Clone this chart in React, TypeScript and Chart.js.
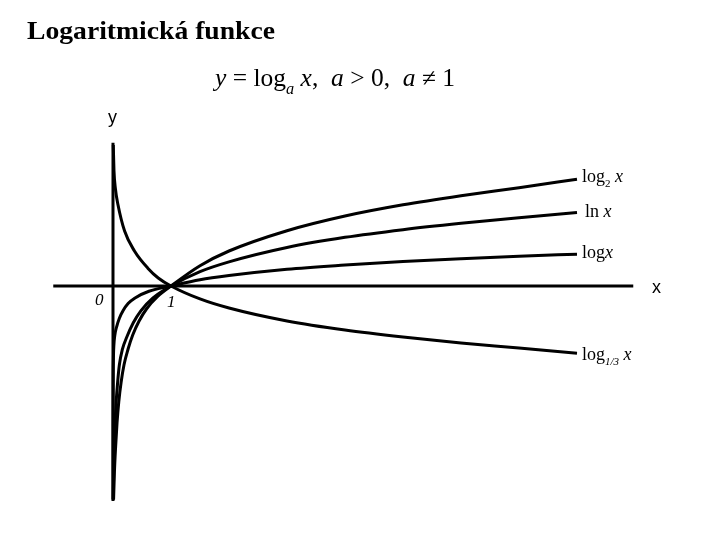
import React, { useEffect, useRef } from "react";
import { Chart, registerables } from "chart.js";
Chart.register(...registerables);

// (x in units, y in units)
const log2Xs = [0.01, 0.025, 0.045, 0.07, 0.1, 0.14, 0.19, 0.26, 0.34, 0.45, 0.58, 0.77, 1, 1.5, 2, 3, 4, 5, 6, 7, 8];
const log2Ys = [-6.1, -5.3, -4.6, -3.9, -3.3, -2.75, -2.25, -1.8, -1.4, -1.0, -0.65, -0.3, 0, 0.58, 1, 1.58, 2, 2.32, 2.58, 2.81, 3.05];

const lnXs = [0.004, 0.012, 0.022, 0.036, 0.055, 0.08, 0.11, 0.16, 0.24, 0.35, 0.48, 0.69, 1, 1.5, 2, 3, 4, 5, 6, 7, 8];
const lnYs = [-6.1, -5.3, -4.6, -3.9, -3.3, -2.75, -2.25, -1.82, -1.45, -1.05, -0.71, -0.34, 0, 0.41, 0.69, 1.1, 1.39, 1.61, 1.79, 1.95, 2.1];

const log10Xs = [0.001, 0.0015, 0.003, 0.007, 0.015, 0.03, 0.06, 0.11, 0.175, 0.26, 0.38, 0.62, 1, 1.5, 2, 3, 4, 5, 6, 7, 8];
const log10Ys = [-6.1, -4.0, -2.8, -2.1, -1.7, -1.42, -1.18, -0.92, -0.7, -0.5, -0.34, -0.15, 0, 0.18, 0.3, 0.48, 0.6, 0.7, 0.78, 0.85, 0.91];

const log13Xs = [0.005, 0.017, 0.04, 0.086, 0.2, 0.37, 0.6, 0.78, 1, 1.5, 2, 3, 4, 5, 6, 7, 8];
const log13Ys = [4.03, 3.29, 2.8, 2.32, 1.57, 1.0, 0.51, 0.23, 0, -0.37, -0.63, -1.0, -1.26, -1.46, -1.63, -1.77, -1.92];

const xAxisXs = [-1.03, 8.97];
const xAxisYs = [0, 0];
const yAxisXs = [0, 0];
const yAxisYs = [4.09, -6.14];

const TITLE = "Logaritmická funkce";

const SERIF = '"Liberation Serif", "Times New Roman", serif';
const SANS = '"Liberation Sans", Arial, sans-serif';

type Part = { t: string; it?: boolean; sub?: boolean };

function drawRich(ctx: CanvasRenderingContext2D, x: number, base: number, parts: Part[], size: number, targetW?: number) {
  const fontFor = (p: Part) => `${p.it ? "italic " : ""}${p.sub ? Math.round(size * 0.62) : size}px ${SERIF}`;
  let total = 0;
  for (const p of parts) {
    ctx.font = fontFor(p);
    total += ctx.measureText(p.t).width;
  }
  const sx = targetW ? targetW / total : 1;
  ctx.save();
  ctx.translate(x, base);
  ctx.scale(sx, 1);
  let cx = 0;
  for (const p of parts) {
    ctx.font = fontFor(p);
    ctx.fillText(p.t, cx, p.sub ? size * 0.3 : 0);
    cx += ctx.measureText(p.t).width;
  }
  ctx.restore();
}

const textPlugin = {
  id: "texts",
  afterDraw(chart: any) {
    const ctx: CanvasRenderingContext2D = chart.ctx;
    ctx.save();
    ctx.fillStyle = "#000";
    ctx.textBaseline = "alphabetic";
    ctx.textAlign = "left";
    // title
    ctx.font = `bold 26px ${SERIF}`;
    const tw = ctx.measureText(TITLE).width;
    ctx.save();
    ctx.translate(27, 39);
    ctx.scale(248 / tw, 1);
    ctx.fillText(TITLE, 0, 0);
    ctx.restore();
    // formula
    drawRich(ctx, 215, 86, [
      { t: "y", it: true },
      { t: " = log" },
      { t: "a", it: true, sub: true },
      { t: " " },
      { t: "x", it: true },
      { t: ",  " },
      { t: "a", it: true },
      { t: " > 0,  " },
      { t: "a", it: true },
      { t: " ≠ 1" },
    ], 25, 240);
    // axis letters
    ctx.font = `18px ${SANS}`;
    ctx.fillText("y", 108, 123);
    ctx.fillText("x", 652, 293);
    // origin and one
    ctx.font = `italic 17px ${SERIF}`;
    ctx.fillText("0", 95, 305);
    ctx.fillText("1", 167, 307);
    // curve labels
    drawRich(ctx, 582, 182, [{ t: "log" }, { t: "2", sub: true }, { t: " " }, { t: "x", it: true }], 18);
    drawRich(ctx, 585, 217, [{ t: "ln" }, { t: " " }, { t: "x", it: true }], 18);
    drawRich(ctx, 582, 258, [{ t: "log" }, { t: "x", it: true }], 18);
    drawRich(ctx, 582, 360, [{ t: "log" }, { t: "1/3", it: true, sub: true }, { t: " " }, { t: "x", it: true }], 18);
    ctx.restore();
  },
};

const pts = (xs: number[], ys: number[]) => xs.map((x, i) => ({ x, y: ys[i] }));

export default function App() {
  const ref = useRef<HTMLCanvasElement>(null);
  useEffect(() => {
    if (!ref.current) return;
    const curve = (data: any) => ({
      data,
      borderColor: "#000",
      borderWidth: 3,
      pointRadius: 0,
      showLine: true,
      cubicInterpolationMode: "monotone" as const,
      fill: false,
      clip: false as any,
    });
    const straight = (data: any) => ({
      data,
      borderColor: "#000",
      borderWidth: 3,
      pointRadius: 0,
      showLine: true,
      tension: 0,
      fill: false,
      clip: false as any,
    });
    const chart = new Chart(ref.current, {
      type: "scatter",
      data: {
        datasets: [
          straight(pts(xAxisXs, xAxisYs)),
          straight(pts(yAxisXs, yAxisYs)),
          curve(pts(log2Xs, log2Ys)),
          curve(pts(lnXs, lnYs)),
          curve(pts(log10Xs, log10Ys)),
          curve(pts(log13Xs, log13Ys)),
        ],
      },
      options: {
        animation: false,
        responsive: false,
        devicePixelRatio: 1,
        layout: { padding: { left: 40, right: 40, top: 130, bottom: 30 } },
        plugins: { legend: { display: false }, tooltip: { enabled: false }, title: { display: false } },
        scales: {
          x: { type: "linear", display: false, min: -1.2586, max: 9.7759 },
          y: { type: "linear", display: false, min: -6.4, max: 4.457 },
        },
      },
      plugins: [textPlugin],
    });
    return () => chart.destroy();
  }, []);
  return (
    <div style={{ position: "fixed", left: 0, top: 0, width: 720, height: 540, background: "#fff" }}>
      <canvas ref={ref} width={720} height={540} style={{ width: 720, height: 540, display: "block" }} />
    </div>
  );
}
